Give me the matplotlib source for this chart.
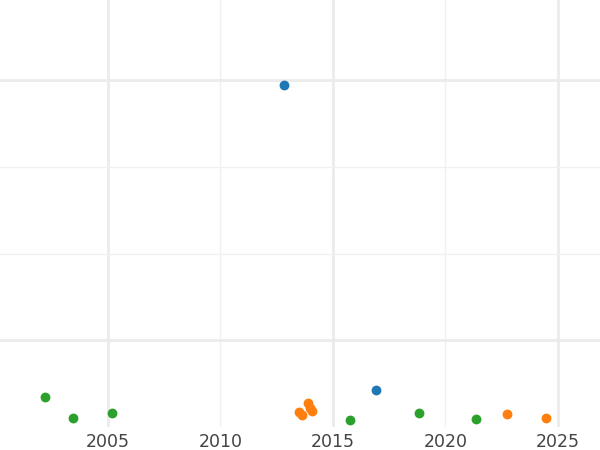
import matplotlib
matplotlib.use("Agg")
import matplotlib.pyplot as plt

# series values (y in arbitrary units, labels hidden)
blue_x = [2012.82, 2016.91]
blue_y = [394.6, 42.7]

orange_x = [2013.50, 2013.62, 2013.91, 2014.00, 2014.09, 2022.75, 2024.48]
orange_y = [17.7, 13.8, 27.7, 22.5, 19.0, 15.4, 10.4]

green_x = [2002.19, 2003.46, 2005.18, 2015.76, 2018.81, 2021.34]
green_y = [35.0, 10.4, 15.8, 8.4, 16.5, 9.6]

major_x = [2005, 2015, 2025]
minor_x = [2010, 2020]
major_y = [100, 400]
minor_y = [200, 300]

fig = plt.figure(figsize=(6, 4.5), dpi=100)
ax = fig.add_axes([0, 23 / 450, 1, 427 / 450])

ax.scatter(blue_x, blue_y, s=50, color="#1f77b4", zorder=3, linewidths=0)
ax.scatter(orange_x, orange_y, s=50, color="#ff7f0e", zorder=3, linewidths=0)
ax.scatter(green_x, green_y, s=50, color="#2ca02c", zorder=3, linewidths=0)

ax.set_xlim(2000.2, 2026.87)
ax.set_ylim(0, 492.7)

ax.set_xticks(major_x)
ax.set_xticks(minor_x, minor=True)
ax.set_yticks(major_y)
ax.set_yticks(minor_y, minor=True)

ax.grid(which="major", color="#ebebeb", linewidth=2)
ax.grid(which="minor", color="#f0f0f0", linewidth=1)
ax.set_axisbelow(True)

ax.set_yticklabels([])
ax.set_xticklabels([str(x) for x in major_x])
ax.set_xticklabels([str(x) for x in minor_x], minor=True)
ax.tick_params(which="both", length=0)
ax.tick_params(axis="x", which="both", labelsize=12.5, labelcolor="#444444", pad=4)

for s in ax.spines.values():
    s.set_visible(False)

fig.savefig("out.png", dpi=100)
